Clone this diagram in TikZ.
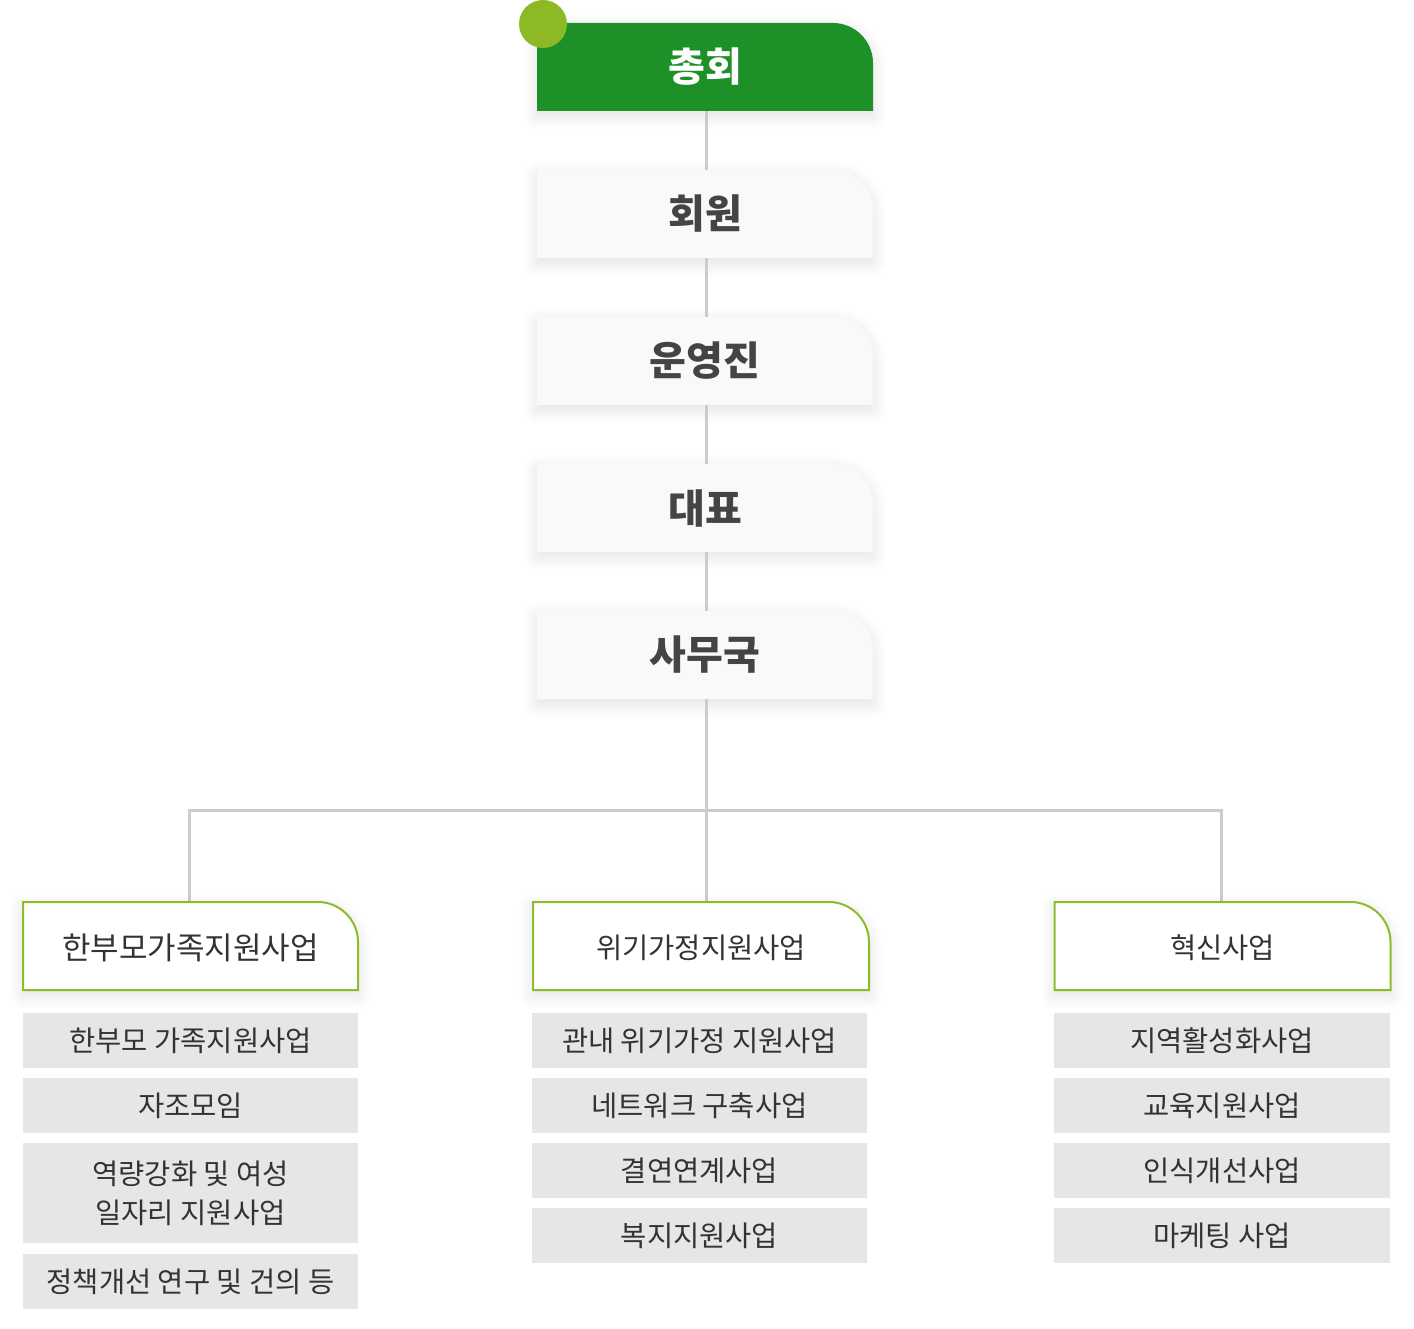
\documentclass[tikz,border=0pt]{standalone}
\usepackage{fontspec}
\setmainfont{Noto Sans CJK KR}
\usetikzlibrary{shadows.blur}
\definecolor{topgreen}{RGB}{30,144,40}
\definecolor{dotgreen}{RGB}{141,185,38}
\definecolor{linegreen}{RGB}{140,188,42}
\definecolor{boxgray}{RGB}{249,249,249}
\definecolor{subgray}{RGB}{230,230,230}
\definecolor{conngray}{RGB}{204,204,204}
\definecolor{titletext}{RGB}{68,68,68}
\definecolor{bodytext}{RGB}{51,51,51}
\tikzset{
  softshadow/.style={blur shadow={shadow xshift=0pt, shadow yshift=-5pt, shadow blur radius=14pt, shadow blur steps=12, shadow opacity=12}},
  topshape/.style={fill=topgreen, softshadow},
  lvlshape/.style={fill=boxgray, softshadow},
  secshape/.style={fill=white, draw=linegreen, line width=2pt, softshadow},
  toptext/.style={text=white, font=\fontsize{40}{44}\selectfont\bfseries},
  lvltext/.style={text=titletext, font=\fontsize{40}{44}\selectfont\bfseries},
  sectext/.style={text=bodytext, font=\fontsize{28.5}{34}\selectfont, yshift=-2pt},
  subbox/.style={fill=subgray, text=bodytext, font=\fontsize{28.5}{39}\selectfont, inner sep=0pt, align=center},
  conn/.style={draw=conngray, line width=3pt},
}
\newcommand\tabnode[8]{%
  \path[#6] ({#2-#4/2},{#3+#5/2}) -- ({#2-#4/2},{#3-#5/2}) -- ({#2+#4/2-40},{#3-#5/2})
    .. controls ({#2+#4/2-18},{#3-#5/2}) and ({#2+#4/2},{#3-#5/2+18}) .. ({#2+#4/2},{#3-#5/2+40})
    -- ({#2+#4/2},{#3+#5/2}) -- cycle;
  \node[#7, minimum width=#4pt, minimum height=#5pt, inner sep=0pt] (#1) at (#2,#3) {#8};}
\begin{document}
\begin{tikzpicture}[x=1pt,y=-1pt]
\useasboundingbox (0,0) rectangle (1414,1329);
% connectors (behind)
\coordinate (hub) at (706,810);
\draw[conn] (706,111) -- (706,611);
% top column
\tabnode{n0}{705}{67}{336}{88}{topshape}{toptext}{총회}
\fill[dotgreen] (543,24) circle[radius=24];
\tabnode{n1}{705}{214}{336}{88}{lvlshape}{lvltext}{회원}
\tabnode{n2}{705}{361}{336}{88}{lvlshape}{lvltext}{운영진}
\tabnode{n3}{705}{508}{336}{88}{lvlshape}{lvltext}{대표}
\tabnode{n4}{705}{655}{336}{88}{lvlshape}{lvltext}{사무국}
\draw[conn] (hub |- n0.south) -- (hub |- n1.north);
\draw[conn] (hub |- n1.south) -- (hub |- n2.north);
\draw[conn] (hub |- n2.south) -- (hub |- n3.north);
\draw[conn] (hub |- n3.south) -- (hub |- n4.north);
\draw[conn] (hub |- n4.south) -- (hub);
% second level
\coordinate (hl) at (189,810);
\coordinate (hr) at (1221,810);
\draw[conn] (189,902) -- (hl) -- (hr) -- (1221,902);
\draw[conn] (hub) -- (706,902);
\tabnode{b1}{190.5}{946}{335}{88}{secshape}{sectext}{\fontsize{31}{34}\selectfont 한부모가족지원사업}
\tabnode{b2}{701}{946}{336}{88}{secshape}{sectext}{위기가정지원사업}
\tabnode{b3}{1222.5}{946}{336}{88}{secshape}{sectext}{혁신사업}
% sub items left
\node[subbox, minimum width=335pt, minimum height=55pt] (l1) at (190.5,1040.5) {한부모 가족지원사업};
\node[subbox, minimum width=335pt, minimum height=55pt] (l2) at (190.5,1105.5) {자조모임};
\node[subbox, minimum width=335pt, minimum height=100pt] (l3) at (190.5,1193) {역량강화 및 여성\\일자리 지원사업};
\node[subbox, minimum width=335pt, minimum height=55pt] (l4) at (190.5,1281.5) {정책개선 연구 및 건의 등};
% sub items middle
\node[subbox, minimum width=335pt, minimum height=55pt] (m1) at (699.5,1040.5) {관내 위기가정 지원사업};
\node[subbox, minimum width=335pt, minimum height=55pt] (m2) at (699.5,1105.5) {네트워크 구축사업};
\node[subbox, minimum width=335pt, minimum height=55pt] (m3) at (699.5,1170.5) {결연연계사업};
\node[subbox, minimum width=335pt, minimum height=55pt] (m4) at (699.5,1235.5) {복지지원사업};
% sub items right
\node[subbox, minimum width=336pt, minimum height=55pt] (r1) at (1222,1040.5) {지역활성화사업};
\node[subbox, minimum width=336pt, minimum height=55pt] (r2) at (1222,1105.5) {교육지원사업};
\node[subbox, minimum width=336pt, minimum height=55pt] (r3) at (1222,1170.5) {인식개선사업};
\node[subbox, minimum width=336pt, minimum height=55pt] (r4) at (1222,1235.5) {마케팅 사업};
\end{tikzpicture}
\end{document}
